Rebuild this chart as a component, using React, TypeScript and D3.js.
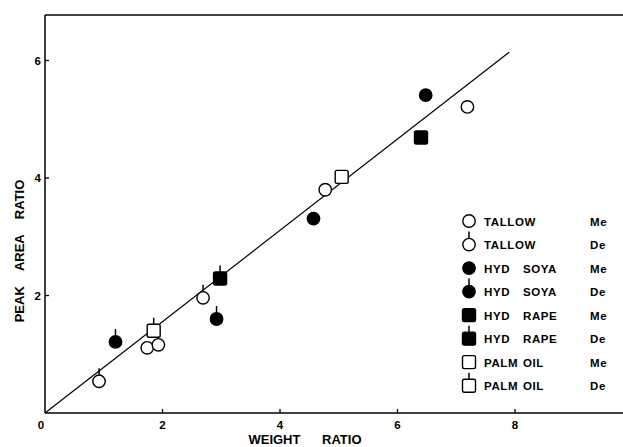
import React from "react";
import * as d3 from "d3";

// values: [weight ratio, peak area ratio]
const tallowMe = [[7.19, 5.21], [4.77, 3.8], [1.74, 1.11], [1.93, 1.16]];
const tallowDe = [[0.92, 0.54], [2.69, 1.96]];
const soyaMe = [[6.48, 5.41], [4.57, 3.31]];
const soyaDe = [[1.2, 1.21], [2.92, 1.6]];
const rapeMe = [[6.4, 4.69]];
const rapeDe = [[2.98, 2.29]];
const palmMe = [[5.05, 4.02]];
const palmDe = [[1.85, 1.4]];

const fitLine = [[0, 0], [7.9, 6.14]];

const xTicks = [2, 4, 6, 8];
const yTicks = [2, 4, 6];

const series = [
  { name: "TALLOW", kind: "Me", shape: "circle", filled: false, tick: false, data: tallowMe },
  { name: "TALLOW", kind: "De", shape: "circle", filled: false, tick: true, data: tallowDe },
  { name: "HYD SOYA", kind: "Me", shape: "circle", filled: true, tick: false, data: soyaMe },
  { name: "HYD SOYA", kind: "De", shape: "circle", filled: true, tick: true, data: soyaDe },
  { name: "HYD RAPE", kind: "Me", shape: "square", filled: true, tick: false, data: rapeMe },
  { name: "HYD RAPE", kind: "De", shape: "square", filled: true, tick: true, data: rapeDe },
  { name: "PALM OIL", kind: "Me", shape: "square", filled: false, tick: false, data: palmMe },
  { name: "PALM OIL", kind: "De", shape: "square", filled: false, tick: true, data: palmDe },
];

const W = 623;
const H = 447;
const left = 45;
const top = 15;
const bottom = 413;
const font = "'Liberation Sans', Arial, sans-serif";

function Marker({ cx, cy, shape, filled, tick }: any) {
  const r = 6.2;
  const fill = filled ? "#000" : "#fff";
  return (
    <g>
      {shape === "circle" ? (
        <circle cx={cx} cy={cy} r={r} fill={fill} stroke="#000" strokeWidth={1.4} />
      ) : (
        <rect x={cx - 6.5} y={cy - 6.5} width={13} height={13} rx={1.8} fill={fill} stroke="#000" strokeWidth={1.4} />
      )}
      {tick && <line x1={cx} x2={cx} y1={cy - (shape === "circle" ? r : 6.5)} y2={cy - 13} stroke="#000" strokeWidth={1.5} />}
    </g>
  );
}

export default function App() {
  const x = d3.scaleLinear().domain([0, 8]).range([left, 515]);
  const y = d3.scaleLinear().domain([0, 6]).range([bottom, 60.5]);
  const line = d3.line().x((d: any) => x(d[0])).y((d: any) => y(d[1]));

  const legendY = d3.scaleLinear().domain([0, 7]).range([221, 385.7]);

  return (
    <svg width={W} height={H} style={{ position: "absolute", left: 0, top: 0, background: "#fff" }} fontFamily={font} fontWeight="bold">
      <rect width={W} height={H} fill="#fff" />
      {/* frame */}
      <line x1={left} x2={W} y1={top} y2={top} stroke="#000" strokeWidth={1.4} />
      <line x1={left} x2={left} y1={top} y2={bottom} stroke="#000" strokeWidth={1.5} />
      <line x1={left} x2={W} y1={bottom} y2={bottom} stroke="#000" strokeWidth={1.6} />

      {xTicks.map((t) => (
        <g key={"x" + t}>
          <line x1={x(t)} x2={x(t)} y1={bottom} y2={bottom - 4} stroke="#000" strokeWidth={1.3} />
          <text x={x(t)} y={429} textAnchor="middle" fontSize={11.5}>{t}</text>
        </g>
      ))}
      <text x={41} y={429} textAnchor="middle" fontSize={11.5}>0</text>
      {yTicks.map((t) => (
        <g key={"y" + t}>
          <line x1={left} x2={left + 4} y1={y(t)} y2={y(t)} stroke="#000" strokeWidth={1.3} />
          <text x={41} y={y(t) + 4} textAnchor="end" fontSize={11.5}>{t}</text>
        </g>
      ))}

      <text x={305} y={444} textAnchor="middle" fontSize={13} style={{ wordSpacing: "18px" }}>WEIGHT RATIO</text>
      <text transform={`translate(24,251) rotate(-90)`} textAnchor="middle" fontSize={13} style={{ wordSpacing: "12px" }}>PEAK AREA RATIO</text>

      <path d={line(fitLine as any) || ""} fill="none" stroke="#000" strokeWidth={1.2} />

      {series.map((s, i) =>
        s.data.map((d, j) => (
          <Marker key={i + "-" + j} cx={x(d[0])} cy={y(d[1])} shape={s.shape} filled={s.filled} tick={s.tick} />
        ))
      )}

      {series.map((s, i) => {
        const words = s.name.split(" ");
        return (
          <g key={"lg" + i} fontSize={11.5} style={{ letterSpacing: "0.6px" }}>
            <Marker cx={469} cy={legendY(i)} shape={s.shape} filled={s.filled} tick={s.tick} />
            <text x={484} y={legendY(i) + 4.5}>{words[0]}</text>
            {words[1] && <text x={523} y={legendY(i) + 4.5}>{words[1]}</text>}
            <text x={590} y={legendY(i) + 4.5}>{s.kind}</text>
          </g>
        );
      })}
    </svg>
  );
}
